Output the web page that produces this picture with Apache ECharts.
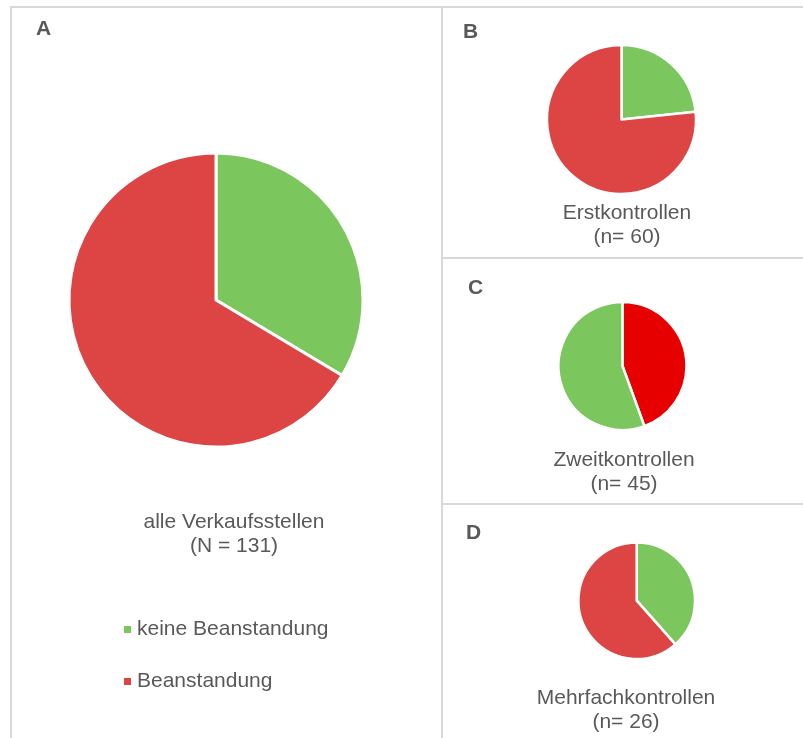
<!DOCTYPE html>
<html>
<head>
<meta charset="utf-8">
<script src="https://cdn.jsdelivr.net/npm/echarts@6/dist/echarts.min.js"></script>
<style>
  html, body { margin: 0; padding: 0; background: #ffffff; }
  #chart { width: 803px; height: 738px; }
</style>
</head>
<body>
<div id="chart"></div>
<script>
// ---- data ----
var categories = ['keine Beanstandung', 'Beanstandung'];
var panelLetters = ['A', 'B', 'C', 'D'];
var panelTitles = ['alle Verkaufsstellen', 'Erstkontrollen', 'Zweitkontrollen', 'Mehrfachkontrollen'];
var panelCounts = ['(N = 131)', '(n= 60)', '(n= 45)', '(n= 26)'];
var keineValues = [44, 14, 25, 10];
var beanstandungValues = [87, 46, 20, 16];

// ---- styles ----
var FONT = '"Liberation Sans", Arial, sans-serif';
var TXT = '#595959';
var GREEN = '#7BC75D';
var RED = '#DD4545';
var RED_C = '#E60000';
var BORDER = '#D9D9D9';

var pieLayout = [
  { center: [216, 300], r: 147, bw: 3 },
  { center: [621.5, 119.5], r: 74.5, bw: 2.5 },
  { center: [622.5, 366], r: 64, bw: 2.5 },
  { center: [636.7, 600.7], r: 58.3, bw: 2.5 }
];
var letterPos = [[36, 29], [463, 32], [468, 288], [466, 533]];
var titlePos = [[234, 522], [627, 213], [624, 460], [626, 698]];
var countPos = [[234, 546], [627, 237], [624, 484], [626, 722]];

var series = pieLayout.map(function (p, i) {
  var green = { name: categories[0], value: keineValues[i], itemStyle: { color: GREEN } };
  var red = { name: categories[1], value: beanstandungValues[i], itemStyle: { color: i === 2 ? RED_C : RED } };
  // panel C starts with the red slice at 12 o'clock
  var data = i === 2 ? [red, green] : [green, red];
  return {
    type: 'pie',
    center: p.center,
    radius: [0, p.r],
    startAngle: 90,
    clockwise: true,
    label: { show: false },
    labelLine: { show: false },
    emphasis: { disabled: true },
    itemStyle: { borderColor: '#ffffff', borderWidth: p.bw },
    data: data
  };
});

var graphics = [];
function line(x1, y1, x2, y2) {
  graphics.push({ type: 'line', silent: true, z: 0,
    shape: { x1: x1, y1: y1, x2: x2, y2: y2 },
    style: { stroke: BORDER, lineWidth: 2 } });
}
line(10, 7, 803, 7);
line(11, 6, 11, 738);
line(442, 6, 442, 738);
line(442, 258, 803, 258);
line(442, 504, 803, 504);

function text(t, x, y, opts) {
  graphics.push({ type: 'text', silent: true, x: x, y: y,
    style: Object.assign({ text: t, fill: TXT, font: '21px ' + FONT,
      align: 'center', verticalAlign: 'middle' }, opts || {}) });
}
panelLetters.forEach(function (l, i) {
  text(l, letterPos[i][0], letterPos[i][1], { align: 'left', font: 'bold 21px ' + FONT });
  text(panelTitles[i], titlePos[i][0], titlePos[i][1]);
  text(panelCounts[i], countPos[i][0], countPos[i][1]);
});

var chart = echarts.init(document.getElementById('chart'), null, { renderer: 'canvas' });
chart.setOption({
  animation: false,
  backgroundColor: '#ffffff',
  legend: {
    data: categories,
    orient: 'vertical',
    left: 124,
    top: 619,
    padding: 0,
    icon: 'rect',
    itemWidth: 7,
    itemHeight: 7,
    itemGap: 31,
    selectedMode: false,
    itemStyle: { borderWidth: 0 },
    textStyle: { color: TXT, fontSize: 21, fontFamily: FONT, padding: [0, 0, 0, 1] }
  },
  series: series,
  graphic: graphics
});
</script>
</body>
</html>
